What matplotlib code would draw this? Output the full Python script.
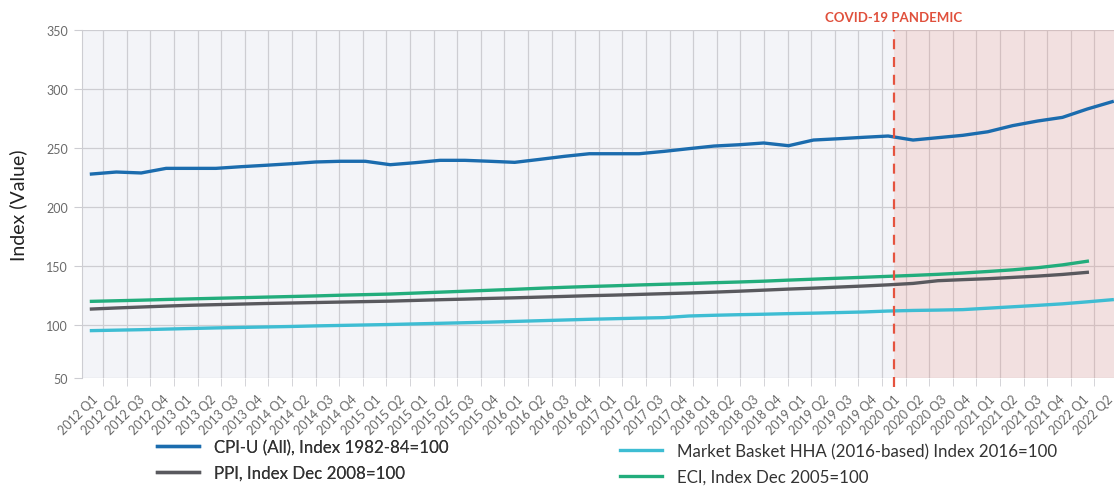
import matplotlib.pyplot as plt
import numpy as np

plt.rcParams['font.family'] = ['Lato', 'DejaVu Sans']

# tick labels as printed on the source chart (2015 Q1/Q2 appear twice there)
tick_labels = ["2012 Q1", "2012 Q2", "2012 Q3", "2012 Q4",
               "2013 Q1", "2013 Q2", "2013 Q3", "2013 Q4",
               "2014 Q1", "2014 Q2", "2014 Q3", "2014 Q4",
               "2015 Q1", "2015 Q2",
               "2015 Q1", "2015 Q2", "2015 Q3", "2015 Q4",
               "2016 Q1", "2016 Q2", "2016 Q3", "2016 Q4",
               "2017 Q1", "2017 Q2", "2017 Q3", "2017 Q4",
               "2018 Q1", "2018 Q2", "2018 Q3", "2018 Q4",
               "2019 Q1", "2019 Q2", "2019 Q3", "2019 Q4",
               "2020 Q1", "2020 Q2", "2020 Q3", "2020 Q4",
               "2021 Q1", "2021 Q2", "2021 Q3", "2021 Q4",
               "2022 Q1", "2022 Q2"]

# quarterly values 2012 Q1 .. 2022 Q2
cpi = [227.7, 229.4, 228.6, 232.5, 232.5, 232.5, 233.9, 235.1, 236.4, 237.9,
       238.5, 238.5, 235.6, 237.3, 239.3, 239.3, 238.5, 237.6, 240.1, 242.7,
       244.9, 244.9, 244.9, 246.9, 249.2, 251.4, 252.5, 254.0, 251.7, 256.5,
       257.6, 258.8, 259.9, 256.5, 258.5, 260.5, 263.5, 268.7, 272.6, 275.7,
       282.8, 289.0]
market_basket = [95.0, 95.4, 95.8, 96.3, 96.8, 97.3, 97.7, 98.1, 98.5, 99.0,
                 99.4, 99.8, 100.2, 100.7, 101.2, 101.7, 102.2, 102.8, 103.4, 104.0,
                 104.6, 105.1, 105.6, 106.0, 107.4, 108.0, 108.5, 108.9, 109.4, 109.8,
                 110.3, 110.8, 111.6, 112.1, 112.4, 112.8, 114.0, 115.2, 116.4, 117.7,
                 119.4, 121.2]
# these two stop at 2022 Q1
ppi = [113.3, 114.2, 115.0, 115.8, 116.5, 117.0, 117.5, 118.0, 118.4, 118.8,
       119.2, 119.6, 120.0, 120.6, 121.2, 121.7, 122.3, 122.8, 123.4, 124.0,
       124.6, 125.1, 125.7, 126.3, 126.9, 127.6, 128.4, 129.3, 130.2, 131.0,
       131.9, 132.8, 133.8, 135.0, 137.3, 138.2, 139.0, 140.1, 141.2, 142.6,
       144.4]
eci = [119.8, 120.3, 120.8, 121.4, 121.9, 122.4, 122.9, 123.4, 123.9, 124.4,
       125.0, 125.5, 126.0, 126.8, 127.6, 128.4, 129.2, 130.0, 130.9, 131.7,
       132.4, 133.0, 133.7, 134.3, 134.9, 135.6, 136.2, 136.9, 137.8, 138.6,
       139.4, 140.2, 141.0, 141.8, 142.7, 143.8, 145.1, 146.5, 148.3, 150.7,
       153.8]

y_ticks = [50, 100, 150, 200, 250, 300, 350]
covid_label = "2020 Q1"

# the data points sit a little wider apart than the label slots
xq = np.arange(len(cpi)) * 1.055

W, H = 1114, 489
fig = plt.figure(figsize=(W / 100, H / 100), dpi=100)
ax = fig.add_axes([82 / W, 1 - 379.3 / H, 1036 / W, 348.6 / H])
ax.set_facecolor('#f3f4f8')

ybot = 54.6
ax.set_xlim(-0.4, 43.5)
ax.set_ylim(ybot, 350)

pos = np.arange(len(tick_labels))
ax.set_xticks(pos)
ax.set_xticklabels(tick_labels, rotation=45, ha='right', rotation_mode='anchor',
                   fontsize=9, color='#6a6a6a')
ax.set_xticks(pos + 0.5, minor=True)
ax.tick_params(axis='x', which='major', length=0, pad=10)
ax.tick_params(axis='x', which='minor', length=6, color='#cdcdd2')

yt = [ybot] + y_ticks[1:]
ax.set_yticks(yt)
ax.set_yticklabels([str(v) for v in y_ticks], fontsize=9, color='#6a6a6a')
ax.tick_params(axis='y', length=6, color='#cdcdd2', pad=4)

ax.grid(True, axis='y', which='major', color='#cdcdd2', lw=0.9, zorder=0)
ax.grid(True, axis='x', which='minor', color='#cdcdd2', lw=0.9, zorder=0)
ax.set_axisbelow(True)
for s in ['top', 'right', 'bottom']:
    ax.spines[s].set_visible(False)
ax.spines['left'].set_color('#cdcdd2')

cx = tick_labels.index(covid_label)
ax.axvspan(cx, 43.5, color='#ee9080', alpha=0.2, lw=0, zorder=1)

l1, = ax.plot(xq, cpi, color='#1b6cae', lw=2.4, zorder=3,
              label='CPI-U (All), Index 1982-84=100')
l2, = ax.plot(xq[:len(ppi)], ppi, color='#59595e', lw=2.4, zorder=3,
              label='PPI, Index Dec 2008=100')
l3, = ax.plot(xq, market_basket, color='#3ebdd3', lw=2.4, zorder=3,
              label='Market Basket HHA (2016-based) Index 2016=100')
l4, = ax.plot(xq[:len(eci)], eci, color='#22ad7c', lw=2.4, zorder=3,
              label='ECI, Index Dec 2005=100')

ax.axvline(cx, ymin=-0.025, ymax=1, color='#e5533f', lw=1.6, dashes=(4.5, 3.5),
           zorder=4, clip_on=False)
ax.text(cx, 360.5, 'COVID-19 PANDEMIC', color='#e0503c', fontsize=9.5,
        fontweight='bold', ha='center', va='center')

fig.text(18 / W, 1 - 205 / H, 'Index (Value)', rotation=90, fontsize=14,
         color='#222222', ha='center', va='center')

leg_kw = dict(loc='upper left', frameon=False, fontsize=12.2, handlelength=2.45,
              handletextpad=0.9, labelspacing=0.55, borderpad=0, borderaxespad=0)
leg1 = fig.legend(handles=[l1, l2], bbox_to_anchor=(157 / W, 1 - 440 / H), **leg_kw)
leg2 = fig.legend(handles=[l3, l4], bbox_to_anchor=(620 / W, 1 - 444 / H), **leg_kw)
for lg in (leg1, leg2):
    for t in lg.get_texts():
        t.set_color('#333333')
fig.add_artist(leg1)

fig.savefig('out.png', dpi=100)
